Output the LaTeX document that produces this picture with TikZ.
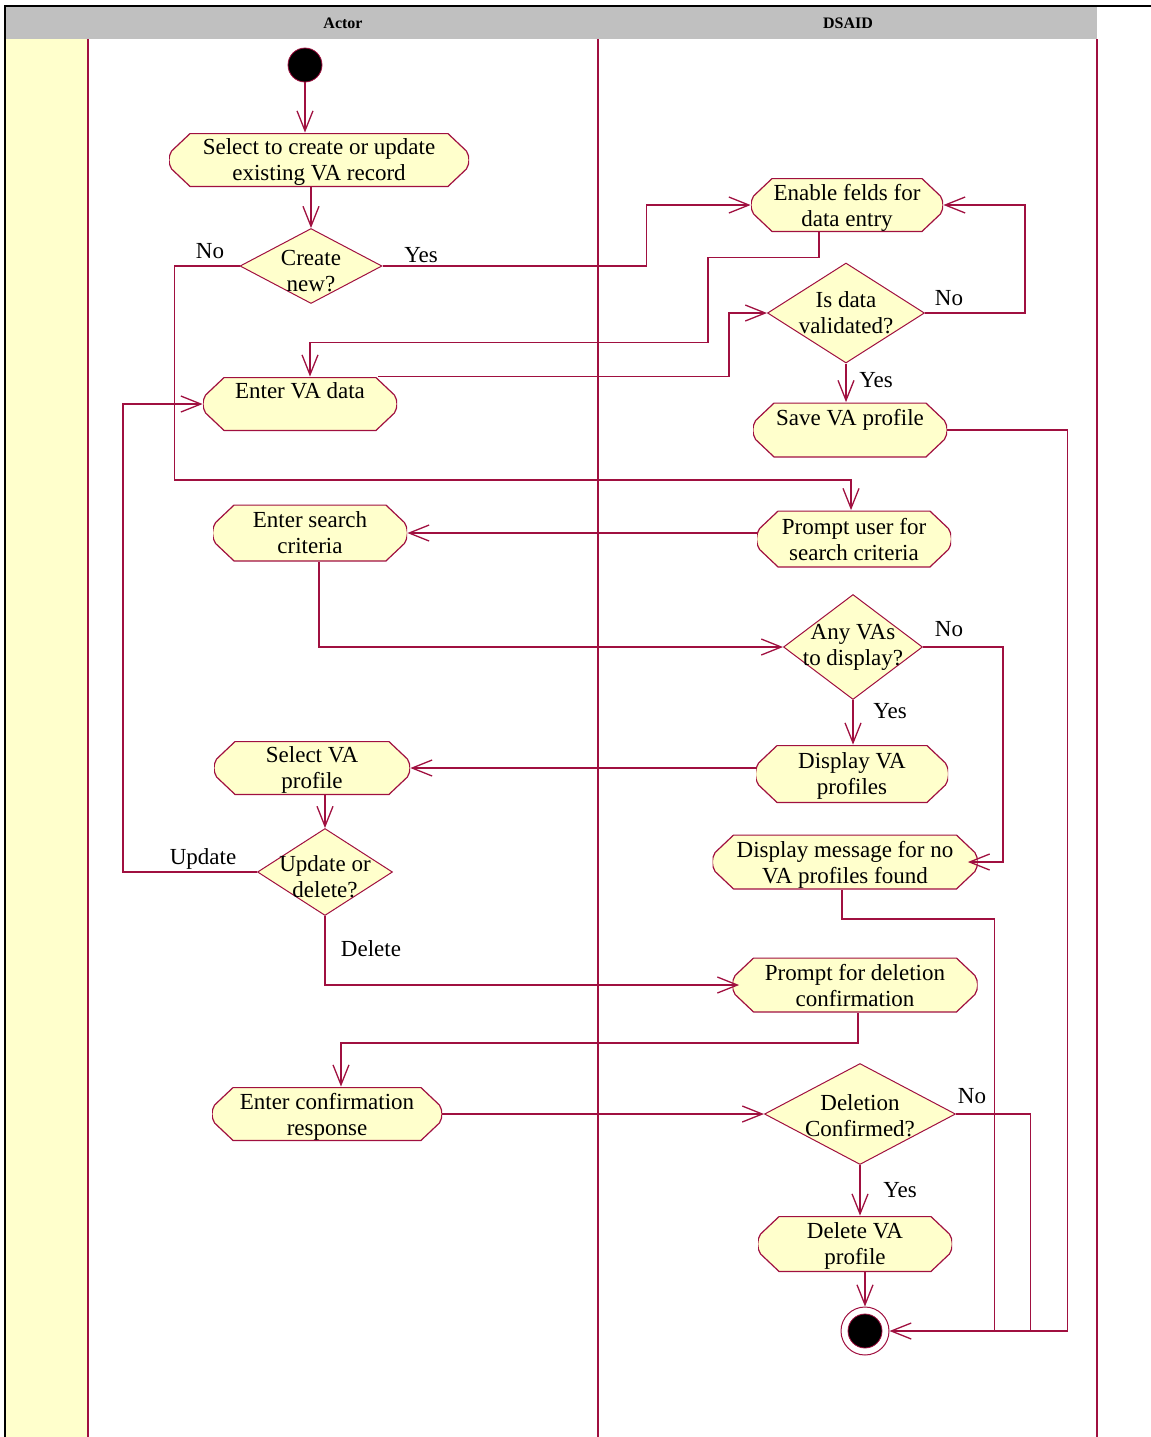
\documentclass[tikz,border=0pt]{standalone}
\usepackage{fontspec}
\setmainfont{Liberation Serif}
\usepackage{tikz}
\usetikzlibrary{shapes.geometric, arrows.meta, positioning}
\definecolor{umlred}{RGB}{160,16,64}
\definecolor{umlfill}{RGB}{255,255,204}
\definecolor{headgray}{RGB}{192,192,192}

\begin{document}
\begin{tikzpicture}[x=0.5pt, y=-0.5pt,
    activity/.style={rectangle, inner sep=0pt, align=center, text depth=0pt,
        font=\fontsize{11.5}{13}\selectfont,
        path picture={
            \path[fill=umlfill, draw=umlred, line width=0.6pt]
              ([xshift=10.5pt,yshift=-0.3pt]path picture bounding box.north west)
              -- ([xshift=-10.5pt,yshift=-0.3pt]path picture bounding box.north east)
              -- ([xshift=-1.3pt,yshift=-9pt]path picture bounding box.north east)
              to[bend left=30] ([xshift=-1.3pt,yshift=9pt]path picture bounding box.south east)
              -- ([xshift=-10.5pt,yshift=0.3pt]path picture bounding box.south east)
              -- ([xshift=10.5pt,yshift=0.3pt]path picture bounding box.south west)
              -- ([xshift=1.3pt,yshift=9pt]path picture bounding box.south west)
              to[bend left=30] ([xshift=1.3pt,yshift=-9pt]path picture bounding box.north west)
              -- cycle;}},
    decision/.style={diamond, draw=umlred, fill=umlfill, line width=0.5pt, inner sep=0pt},
    dtext/.style={align=center, font=\fontsize{11.5}{13}\selectfont, inner sep=0pt},
    lbl/.style={font=\fontsize{11.5}{13}\selectfont, inner sep=0pt},
    flow/.style={draw=umlred, line width=0.65pt, -{Straight Barb[length=10pt, width=8pt]}},
    plain/.style={draw=umlred, line width=0.65pt},
    lanehead/.style={font=\bfseries\fontsize{8}{9}\selectfont, inner sep=0pt}]
    \useasboundingbox (0,0) rectangle (1151,1437);

    % swimlanes
    \fill[headgray] (5,7) rectangle (1097,39);
    \fill[umlfill] (6,39) rectangle (88,1437);
    \draw[umlred, line width=0.6pt] (88,39) -- (88,1437);
    \draw[umlred, line width=0.6pt] (598,39) -- (598,1437);
    \draw[umlred, line width=0.6pt] (1097,39) -- (1097,1437);
    \draw[black, line width=1pt] (1151,6) -- (5,6) -- (5,1437);
    \node[lanehead] (actor) at (343,23) {Actor};
    \node[lanehead] (dsaid) at (848,23) {DSAID};

    % start and end
    \node[circle, fill=black, draw=umlred, minimum size=17pt, inner sep=0pt] (start) at (305,65) {};
    \node[circle, fill=white, draw=umlred, line width=0.5pt, minimum size=24pt, inner sep=0pt] (stop) at (865,1331) {};
    \node[circle, fill=black, draw=umlred, minimum size=17pt, inner sep=0pt] (stopdot) at (stop) {};

    % Actor lane
    \node[activity, minimum width=150pt, minimum height=27pt] (sel) at (319,160) {Select to create or update\\existing VA record};
    \node[decision, minimum width=71pt, minimum height=37.5pt, label={[dtext, yshift=-2.5pt]center:Create\\new?}] (create) at (311,266) {};
    \node[activity, minimum width=97pt, minimum height=27pt] (enterva) at (300,404) {Enter VA data\\\mbox{}};
    \node[activity, minimum width=97pt, minimum height=28.5pt] (search) at (310,533) {Enter search\\criteria};
    \node[activity, minimum width=98pt, minimum height=27pt] (selva) at (312,768) {Select VA\\profile};
    \node[decision, minimum width=67.5pt, minimum height=43.5pt, label={[dtext, yshift=-2.5pt]center:Update or\\delete?}] (upd) at (325,872) {};
    \node[activity, minimum width=115pt, minimum height=27pt] (resp) at (327,1114) {Enter confirmation\\response};

    % DSAID lane
    \node[activity, minimum width=96pt, minimum height=27pt] (enable) at (847,205) {Enable felds for\\data entry};
    \node[decision, minimum width=78.5pt, minimum height=50pt, label={[dtext]center:Is data\\validated?}] (valid) at (846,313) {};
    \node[activity, minimum width=97pt, minimum height=27.5pt] (save) at (850,430) {Save VA profile\\\mbox{}};
    \node[activity, minimum width=97pt, minimum height=28.5pt] (prompt) at (854,539) {Prompt user for\\search criteria};
    \node[decision, minimum width=69.5pt, minimum height=52.5pt, label={[dtext]center:Any VAs\\to display?}] (anyva) at (853,647) {};
    \node[activity, minimum width=96pt, minimum height=29pt] (display) at (852,774) {Display VA\\profiles};
    \node[activity, minimum width=132.5pt, minimum height=27.5pt] (nomsg) at (845,862) {Display message for no\\VA profiles found};
    \node[activity, minimum width=122.5pt, minimum height=27.5pt] (delprompt) at (855,985) {Prompt for deletion\\confirmation};
    \node[decision, minimum width=95.5pt, minimum height=50.5pt, label={[dtext, yshift=-1pt]center:Deletion\\Confirmed?}] (delok) at (860,1114) {};
    \node[activity, minimum width=97pt, minimum height=28pt] (delva) at (855,1244) {Delete VA\\profile};

    % guard labels
    \node[lbl] (no-create) at (210,251) {No};
    \node[lbl] (yes-create) at (421,255) {Yes};
    \node[lbl] (no-valid) at (949,298) {No};
    \node[lbl] (yes-valid) at (876,380) {Yes};
    \node[lbl] (no-anyva) at (949,629) {No};
    \node[lbl] (yes-anyva) at (890,711) {Yes};
    \node[lbl] (upd-upd) at (203,859) {Update};
    \node[lbl] (del-upd) at (371,949) {Delete};
    \node[lbl] (no-delok) at (972,1096) {No};
    \node[lbl] (yes-delok) at (900,1190) {Yes};

    % flows
    \draw[flow] (start.south) -- (start.south |- sel.north);
    \draw[flow] (create.north |- sel.south) -- (create.north);
    \draw[flow] (create.east) -- ++(264,0) |- (enable.west);
    \draw[flow] (create.west) -- ++(-65,0) -- ++(0,214) -| ([xshift=-1.5pt]prompt.north);
    \draw[flow] ([xshift=-14pt]enable.south) -- ++(0,25) -- ++(-111,0) -- ++(0,85) -| ([xshift=5pt]enterva.north);
    \draw[flow] ([xshift=39pt]enterva.north) -- ++(351,0) |- (valid.west);
    \draw[flow] (valid.east) -- ++(100,0) |- (enable.east);
    \draw[flow] (valid.south) -- (valid.south |- save.north);
    \draw[flow] (save.east) -- ++(120,0) |- (stop.east);
    \draw[flow] (search.east -| prompt.west) -- (search.east);
    \draw[flow] ([xshift=4.5pt]search.south) |- (anyva.west);
    \draw[flow] (anyva.east) -- ++(80,0) |- ([xshift=-5pt]nomsg.east);
    \draw[flow] (anyva.south) -- (anyva.south |- display.north);
    \draw[flow] (selva.east -| display.west) -- (selva.east);
    \draw[flow] (upd.north |- selva.south) -- (upd.north);
    \draw[flow] (upd.west) -- ++(-134,0) |- (enterva.west);
    \draw[flow] (upd.south) |- ([xshift=3.5pt]delprompt.west);
    \draw[plain] ([xshift=-1.5pt]nomsg.south) -- ++(0,29) -| ([xshift=52.5pt]stop.east);
    \draw[flow] ([xshift=1.5pt]delprompt.south) -- ++(0,30) -| ([xshift=7pt]resp.north);
    \draw[flow] (resp.east) -- (delok.west);
    \draw[plain] (delok.east) -| ([xshift=70.5pt]stop.east);
    \draw[flow] (delok.south) -- (delok.south |- delva.north);
    \draw[flow] (stop.north |- delva.south) -- (stop.north);
\end{tikzpicture}
\end{document}
